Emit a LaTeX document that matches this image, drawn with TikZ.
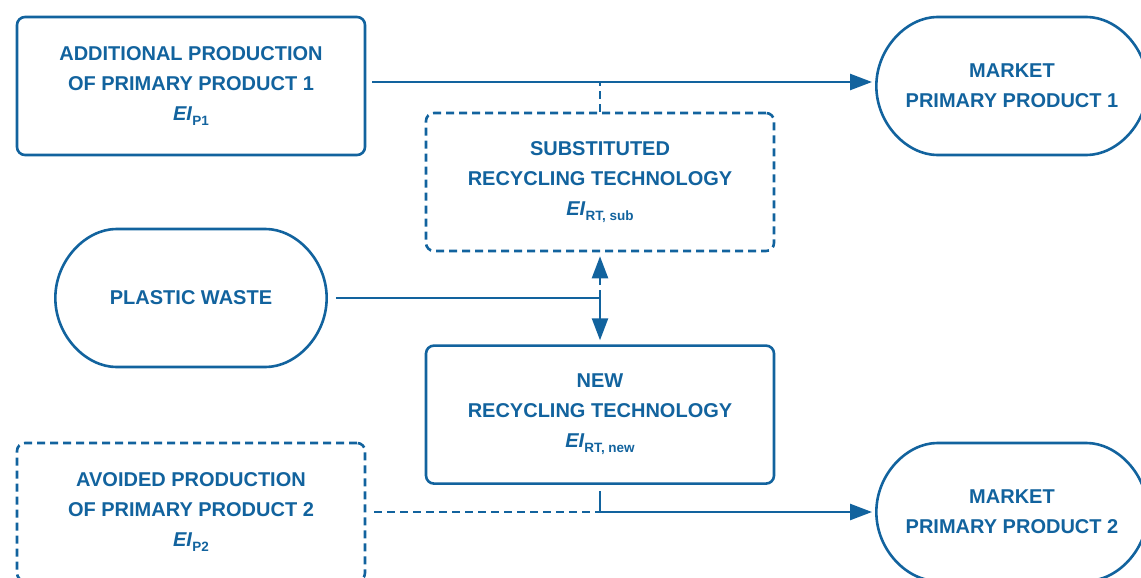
\documentclass[tikz,border=0pt]{standalone}
\usepackage{fontspec}
\setmainfont{Liberation Sans}
\usepackage{tikz}
\usetikzlibrary
  {
    arrows.meta,  % triangle arrow heads
    positioning,  % place nodes relative to other nodes
    shapes.misc,  % rounded rectangle for the markets
  }

\definecolor{pwblue}{RGB}{18,99,158}
\newcommand{\envimp}[1]{\textit{EI}\raisebox{-5pt}{\fontsize{13.5}{13.5}\selectfont #1}}

\begin{document}
\begin{tikzpicture}
    [
      x=1pt, y=-1pt,
      process/.style=
        {
          rectangle,
          rounded corners=8pt,
          draw=pwblue,
          line width=2.6pt,
          minimum width=348pt,
          minimum height=138pt,
          align=center,
          text=pwblue,
          font=\fontsize{20}{30}\selectfont\bfseries,
        },
      avoided/.style=
        {
          process,
          dash pattern=on 8pt off 5pt,
        },
      market/.style=
        {
          process,
          rounded rectangle,
          minimum width=278pt,
        },
      conn/.style={draw=pwblue, line width=2.4pt},
      flow/.style={conn, -{Triangle[length=22pt,width=16pt]}},
      link/.style={conn, dash pattern=on 8pt off 5pt},
      node distance=92pt,
    ]
    \useasboundingbox (0,0) rectangle (1141,578);

    \node[process] (additional) at (191,86)
      {ADDITIONAL PRODUCTION\\OF PRIMARY PRODUCT 1\\\envimp{P1}};
    \node[avoided] (substituted) at (600,182)
      {SUBSTITUTED\\RECYCLING TECHNOLOGY\\\envimp{RT, sub}};
    \node[process] (new tech) [below=of substituted]
      {NEW\\RECYCLING TECHNOLOGY\\\envimp{RT, new}};
    \node[market]  (waste) at (191,298) {PLASTIC WASTE};
    \node[avoided] (avoided prod) at (191,512)
      {AVOIDED PRODUCTION\\OF PRIMARY PRODUCT 2\\\envimp{P2}};
    \node[market]  (market 1) at (1012,86) {MARKET\\PRIMARY PRODUCT 1};
    \node[market]  (market 2) at (1012,512) {MARKET\\PRIMARY PRODUCT 2};

    % upper chain
    \coordinate (p1 out) at ([yshift=4pt]additional.east);
    \draw[flow, shorten <=6pt, shorten >=3pt]
      (p1 out) -- ([yshift=4pt]market 1.west);
    \draw[link] (substituted.north) -- (substituted.north |- p1 out);

    % waste into the new technology
    \coordinate (waste in) at (new tech.north |- waste.east);
    \draw[flow, shorten <=8pt, shorten >=4pt] (waste.east) -| (new tech.north);
    \draw[link, -{Triangle[length=22pt,width=16pt]}, shorten >=4pt]
      (waste in) -- (substituted.south);

    % lower chain
    \coordinate (p2 in) at (new tech.south |- avoided prod.east);
    \draw[conn, shorten <=6pt] (new tech.south) -- (p2 in);
    \draw[flow, shorten >=3pt] (p2 in) -- (market 2.west);
    \draw[link, shorten <=8pt] (avoided prod.east) -- (p2 in);
\end{tikzpicture}
\end{document}
